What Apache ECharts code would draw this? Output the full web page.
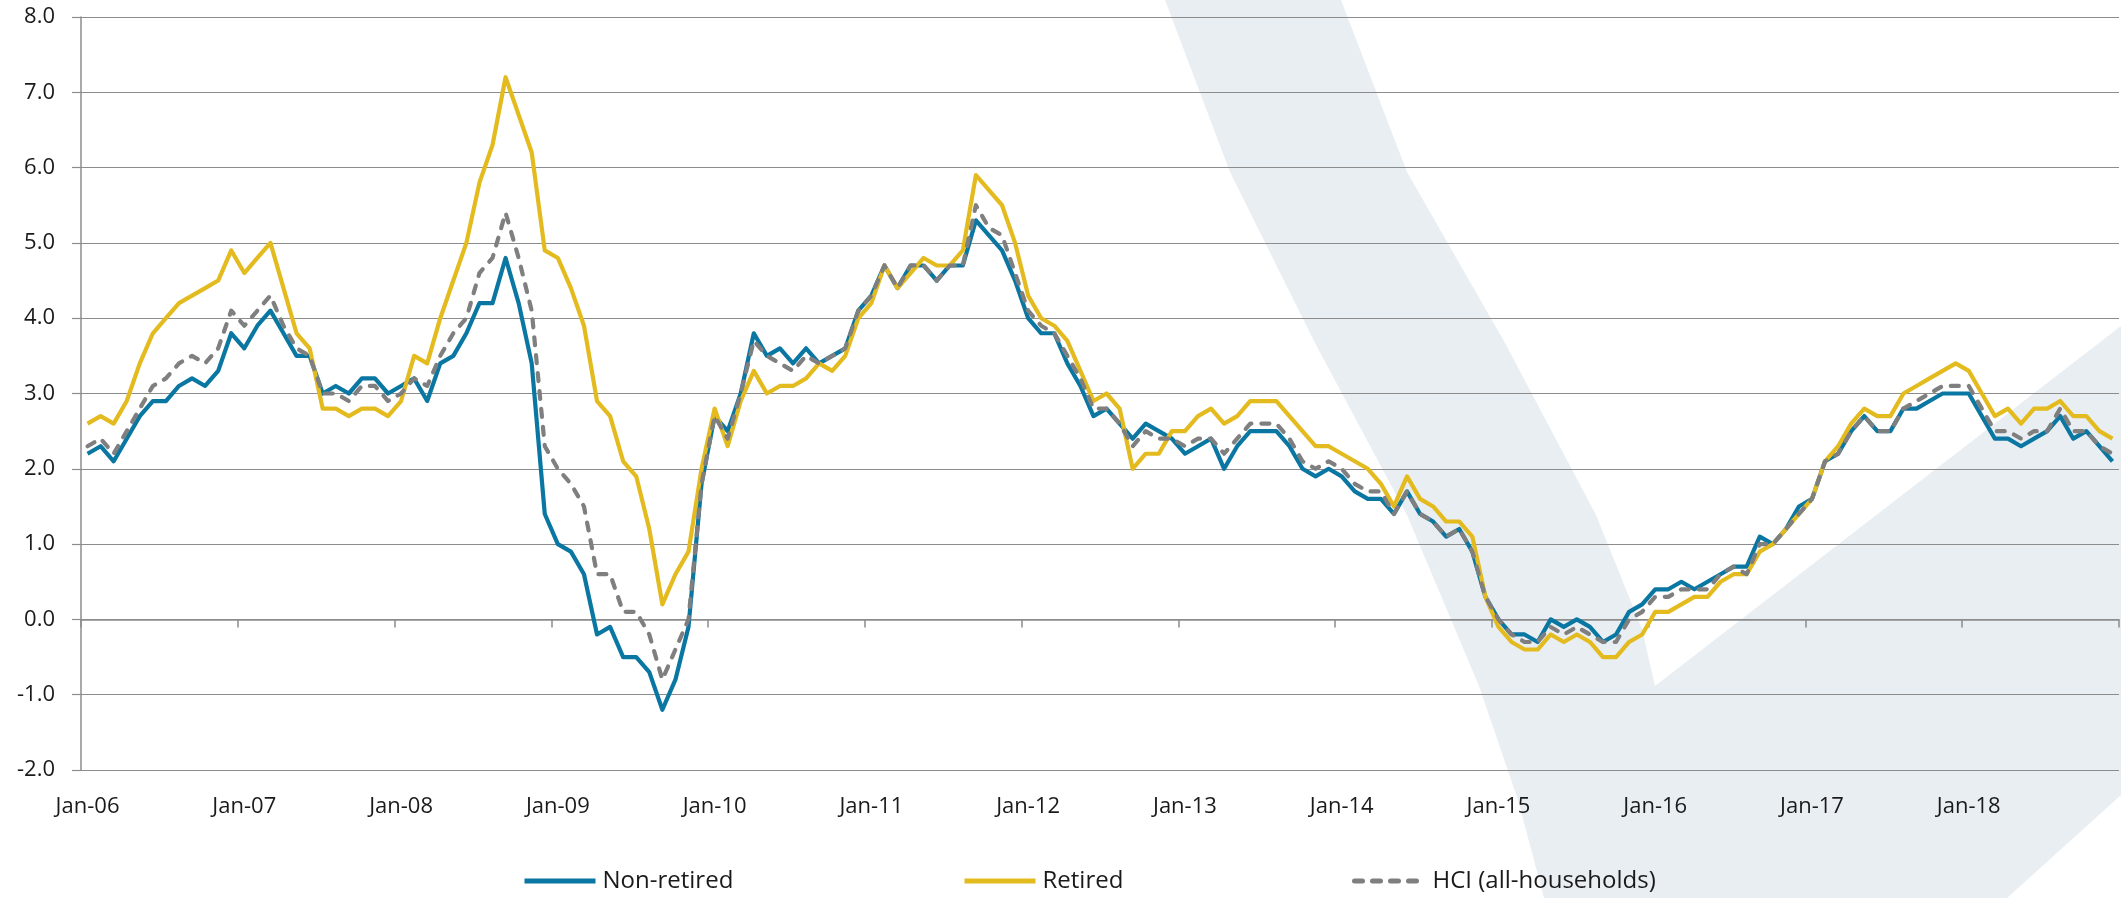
<!DOCTYPE html>
<html>
<head>
<meta charset="utf-8">
<title>Household cost index by household type</title>
<script src="https://cdn.jsdelivr.net/npm/echarts@6/dist/echarts.min.js"></script>
<style>
  html, body { margin: 0; padding: 0; background: #fff; }
  #main { width: 2121px; height: 898px; }
</style>
</head>
<body>
<div id="main"></div>
<script>
// month labels, Jan-06 .. Dec-18
const monthNames = ['Jan', 'Feb', 'Mar', 'Apr', 'May', 'Jun', 'Jul', 'Aug', 'Sep', 'Oct', 'Nov', 'Dec'];
const years = ['06', '07', '08', '09', '10', '11', '12', '13', '14', '15', '16', '17', '18'];
const months = [];
years.forEach(function (y) {
  monthNames.forEach(function (m) { months.push(m + '-' + y); });
});

// annual % change, one row per year
const nonRetired = [
  2.2, 2.3, 2.1, 2.4, 2.7, 2.9, 2.9, 3.1, 3.2, 3.1, 3.3, 3.8,
  3.6, 3.9, 4.1, 3.8, 3.5, 3.5, 3.0, 3.1, 3.0, 3.2, 3.2, 3.0,
  3.1, 3.2, 2.9, 3.4, 3.5, 3.8, 4.2, 4.2, 4.8, 4.2, 3.4, 1.4,
  1.0, 0.9, 0.6, -0.2, -0.1, -0.5, -0.5, -0.7, -1.2, -0.8, -0.1, 1.8,
  2.7, 2.5, 3.0, 3.8, 3.5, 3.6, 3.4, 3.6, 3.4, 3.5, 3.6, 4.1,
  4.3, 4.7, 4.4, 4.7, 4.7, 4.5, 4.7, 4.7, 5.3, 5.1, 4.9, 4.5,
  4.0, 3.8, 3.8, 3.4, 3.1, 2.7, 2.8, 2.6, 2.4, 2.6, 2.5, 2.4,
  2.2, 2.3, 2.4, 2.0, 2.3, 2.5, 2.5, 2.5, 2.3, 2.0, 1.9, 2.0,
  1.9, 1.7, 1.6, 1.6, 1.4, 1.7, 1.4, 1.3, 1.1, 1.2, 0.9, 0.3,
  0.0, -0.2, -0.2, -0.3, 0.0, -0.1, 0.0, -0.1, -0.3, -0.2, 0.1, 0.2,
  0.4, 0.4, 0.5, 0.4, 0.5, 0.6, 0.7, 0.7, 1.1, 1.0, 1.2, 1.5,
  1.6, 2.1, 2.2, 2.5, 2.7, 2.5, 2.5, 2.8, 2.8, 2.9, 3.0, 3.0,
  3.0, 2.7, 2.4, 2.4, 2.3, 2.4, 2.5, 2.7, 2.4, 2.5, 2.3, 2.1
];
const retired = [
  2.6, 2.7, 2.6, 2.9, 3.4, 3.8, 4.0, 4.2, 4.3, 4.4, 4.5, 4.9,
  4.6, 4.8, 5.0, 4.4, 3.8, 3.6, 2.8, 2.8, 2.7, 2.8, 2.8, 2.7,
  2.9, 3.5, 3.4, 4.0, 4.5, 5.0, 5.8, 6.3, 7.2, 6.7, 6.2, 4.9,
  4.8, 4.4, 3.9, 2.9, 2.7, 2.1, 1.9, 1.2, 0.2, 0.6, 0.9, 2.0,
  2.8, 2.3, 2.9, 3.3, 3.0, 3.1, 3.1, 3.2, 3.4, 3.3, 3.5, 4.0,
  4.2, 4.7, 4.4, 4.6, 4.8, 4.7, 4.7, 4.9, 5.9, 5.7, 5.5, 5.0,
  4.3, 4.0, 3.9, 3.7, 3.3, 2.9, 3.0, 2.8, 2.0, 2.2, 2.2, 2.5,
  2.5, 2.7, 2.8, 2.6, 2.7, 2.9, 2.9, 2.9, 2.7, 2.5, 2.3, 2.3,
  2.2, 2.1, 2.0, 1.8, 1.5, 1.9, 1.6, 1.5, 1.3, 1.3, 1.1, 0.3,
  -0.1, -0.3, -0.4, -0.4, -0.2, -0.3, -0.2, -0.3, -0.5, -0.5, -0.3, -0.2,
  0.1, 0.1, 0.2, 0.3, 0.3, 0.5, 0.6, 0.6, 0.9, 1.0, 1.2, 1.4,
  1.6, 2.1, 2.3, 2.6, 2.8, 2.7, 2.7, 3.0, 3.1, 3.2, 3.3, 3.4,
  3.3, 3.0, 2.7, 2.8, 2.6, 2.8, 2.8, 2.9, 2.7, 2.7, 2.5, 2.4
];
const hciAll = [
  2.3, 2.4, 2.2, 2.5, 2.8, 3.1, 3.2, 3.4, 3.5, 3.4, 3.6, 4.1,
  3.9, 4.1, 4.3, 3.9, 3.6, 3.5, 3.0, 3.0, 2.9, 3.1, 3.1, 2.9,
  3.0, 3.2, 3.1, 3.5, 3.8, 4.0, 4.6, 4.8, 5.4, 4.8, 4.1, 2.3,
  2.0, 1.8, 1.5, 0.6, 0.6, 0.1, 0.1, -0.2, -0.8, -0.4, 0.0, 1.8,
  2.7, 2.4, 3.0, 3.7, 3.5, 3.4, 3.3, 3.5, 3.4, 3.5, 3.6, 4.1,
  4.3, 4.7, 4.4, 4.7, 4.7, 4.5, 4.7, 4.7, 5.5, 5.2, 5.1, 4.6,
  4.1, 3.9, 3.8, 3.5, 3.2, 2.8, 2.8, 2.6, 2.3, 2.5, 2.4, 2.4,
  2.3, 2.4, 2.4, 2.2, 2.4, 2.6, 2.6, 2.6, 2.4, 2.1, 2.0, 2.1,
  2.0, 1.8, 1.7, 1.7, 1.4, 1.7, 1.4, 1.3, 1.1, 1.2, 0.9, 0.3,
  0.0, -0.2, -0.3, -0.3, -0.1, -0.2, -0.1, -0.2, -0.3, -0.3, 0.0, 0.1,
  0.3, 0.3, 0.4, 0.4, 0.4, 0.6, 0.7, 0.6, 1.0, 1.0, 1.2, 1.4,
  1.6, 2.1, 2.2, 2.5, 2.7, 2.5, 2.5, 2.8, 2.9, 3.0, 3.1, 3.1,
  3.1, 2.8, 2.5, 2.5, 2.4, 2.5, 2.5, 2.8, 2.5, 2.5, 2.3, 2.2
];

const FONT = '"Open Sans", "Noto Sans", sans-serif';
const GRID_GREY = '#8c8c8c';
const TEXT = '#1a1a1a';

var myChart = echarts.init(document.getElementById('main'));

// light swoosh in the background (logo watermark)
var watermark = [
  [1165, 0], [1230, 172], [1315, 343], [1407, 515], [1479, 686], [1518, 800], [1544, 898],
  [2007, 898], [2121, 795], [2121, 326], [1655, 686], [1642, 629], [1596, 515],
  [1505, 343], [1407, 172], [1341, 0]
];

function legendFor(name, left) {
  return {
    data: [name],
    left: left,
    top: 869,
    padding: 0,
    itemWidth: 71,
    itemHeight: 14,
    // hide the marker dot, keep only the line
    itemStyle: { opacity: 0 },
    lineStyle: { width: 5 },
    textStyle: { fontFamily: FONT, fontSize: 24, color: TEXT, padding: [0, 0, 0, 2] }
  };
}

var option = {
  animation: false,
  backgroundColor: '#fff',
  graphic: [{
    type: 'polygon',
    z: -10,
    silent: true,
    shape: { points: watermark },
    style: { fill: '#e9eef3' }
  }],
  legend: [
    legendFor('Non-retired', 522),
    legendFor('Retired', 962),
    legendFor('HCI (all-households)', 1352)
  ],
  grid: { left: 81, right: 2, top: 17, height: 753 },
  xAxis: [{
    // axis line + ticks sit on the zero line
    type: 'category',
    data: months,
    boundaryGap: true,
    axisLine: { onZero: true, lineStyle: { color: GRID_GREY, width: 1.5 } },
    axisTick: { show: true, interval: 11, length: 8, lineStyle: { color: GRID_GREY, width: 1.5 } },
    axisLabel: { show: false }
  }, {
    // labels at the bottom of the plot
    type: 'category',
    data: months,
    position: 'bottom',
    boundaryGap: true,
    axisLine: { show: false, onZero: false },
    axisTick: { show: false },
    axisLabel: { interval: 11, margin: 26, fontFamily: FONT, fontSize: 22, color: TEXT }
  }],
  yAxis: {
    type: 'value',
    min: -2,
    max: 8,
    interval: 1,
    axisLine: { show: true, lineStyle: { color: GRID_GREY, width: 1.5 } },
    axisTick: { show: true, length: 9, lineStyle: { color: GRID_GREY, width: 1.2 } },
    splitLine: { lineStyle: { color: GRID_GREY, width: 1.2 } },
    axisLabel: {
      margin: 26,
      fontFamily: FONT,
      fontSize: 22,
      color: TEXT,
      formatter: function (v) { return v.toFixed(1); }
    }
  },
  series: [{
    name: 'Non-retired',
    type: 'line',
    data: nonRetired,
    symbol: 'none',
    color: '#0a77a3',
    lineStyle: { width: 4.2, color: '#0a77a3', join: 'round' }
  }, {
    name: 'Retired',
    type: 'line',
    data: retired,
    symbol: 'none',
    color: '#e4bb1e',
    lineStyle: { width: 4.2, color: '#e4bb1e', join: 'round' }
  }, {
    name: 'HCI (all-households)',
    type: 'line',
    data: hciAll,
    symbol: 'none',
    color: '#7f7f7f',
    lineStyle: { width: 4.2, color: '#7f7f7f', type: [8, 10], cap: 'round', join: 'round' }
  }]
};

option && myChart.setOption(option);
</script>
</body>
</html>
